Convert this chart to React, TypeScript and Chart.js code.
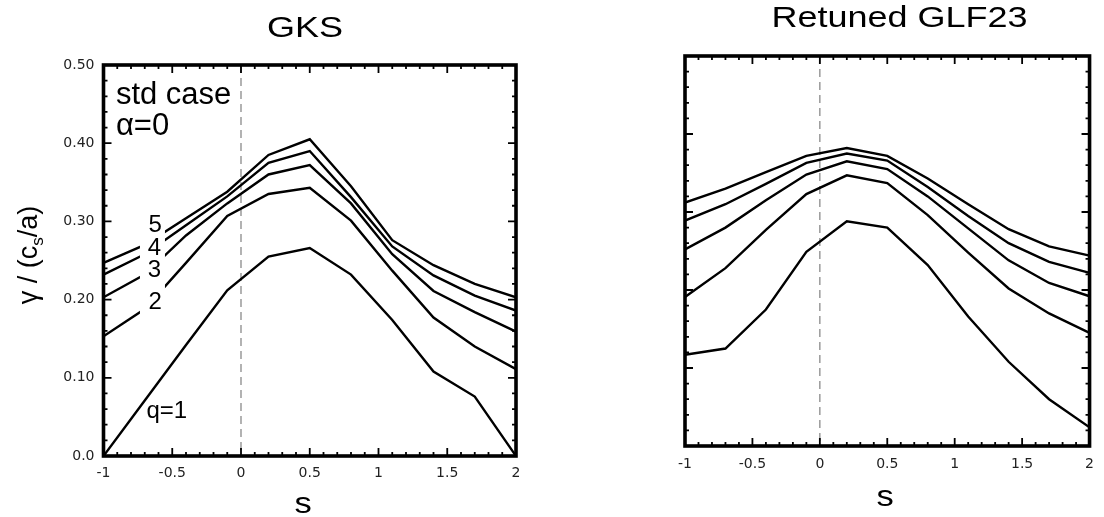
import React, { useEffect, useRef } from "react";
import { Chart, registerables } from "chart.js";

Chart.register(...registerables);

// ---------------- data ----------------
const sValues = [-1, -0.7, -0.4, -0.1, 0.2, 0.5, 0.8, 1.1, 1.4, 1.7, 2];

// GKS (left panel), q = 1..5
const gksQ1 = [0.0, 0.071, 0.142, 0.212, 0.255, 0.266, 0.232, 0.174, 0.108, 0.076, 0.0];
const gksQ2 = [0.153, 0.188, 0.247, 0.307, 0.335, 0.343, 0.301, 0.237, 0.177, 0.140, 0.111];
const gksQ3 = [0.203, 0.232, 0.282, 0.323, 0.360, 0.372, 0.323, 0.258, 0.211, 0.184, 0.159];
const gksQ4 = [0.232, 0.258, 0.295, 0.332, 0.375, 0.390, 0.331, 0.268, 0.231, 0.205, 0.186];
const gksQ5 = [0.247, 0.270, 0.304, 0.338, 0.385, 0.405, 0.345, 0.276, 0.244, 0.220, 0.203];

// Retuned GLF23 (right panel), q = 1..5
const glfQ1 = [0.117, 0.125, 0.175, 0.249, 0.288, 0.280, 0.232, 0.166, 0.108, 0.060, 0.024];
const glfQ2 = [0.191, 0.228, 0.277, 0.323, 0.347, 0.337, 0.296, 0.248, 0.202, 0.170, 0.145];
const glfQ3 = [0.252, 0.280, 0.315, 0.348, 0.365, 0.355, 0.320, 0.279, 0.238, 0.209, 0.192];
const glfQ4 = [0.289, 0.310, 0.336, 0.363, 0.375, 0.366, 0.332, 0.295, 0.260, 0.236, 0.222];
const glfQ5 = [0.312, 0.330, 0.351, 0.372, 0.382, 0.372, 0.343, 0.310, 0.278, 0.256, 0.244];

const qNames = ["q=1", "q=2", "q=3", "q=4", "q=5"];

const xTickValues = [-1, -0.5, 0, 0.5, 1, 1.5, 2];
const xTickLabels = ["-1", "-0.5", "0", "0.5", "1", "1.5", "2"];
const yTickValues = [0, 0.1, 0.2, 0.3, 0.4, 0.5];
const yTickLabels = ["0.0", "0.10", "0.20", "0.30", "0.40", "0.50"];

// in-plot annotations of the GKS panel: [text, s, gamma]
const curveLabelText = ["5", "4", "3", "2"];
const curveLabelS = [-0.625, -0.63, -0.63, -0.625];
const curveLabelY = [0.287, 0.257, 0.229, 0.188];
const q1LabelText = "q=1";
const q1LabelPos = [-0.54, 0.049];
const caseText = ["std case", "\u03b1=0"];
const caseTextS = -0.91;
const caseTextY = [0.45, 0.41];

const FONT = '"Liberation Sans", Arial, Helvetica, sans-serif';
const TICK_FONT = '"DejaVu Sans", "Liberation Sans", sans-serif';

function drawText(
  ctx: CanvasRenderingContext2D,
  text: string,
  x: number,
  y: number,
  size: number,
  align: CanvasTextAlign,
  sx = 1
) {
  ctx.save();
  ctx.font = `${size}px ${FONT}`;
  ctx.fillStyle = "#000";
  ctx.textAlign = align;
  ctx.textBaseline = "alphabetic";
  ctx.translate(x, y);
  ctx.scale(sx, 1);
  ctx.fillText(text, 0, 0);
  ctx.restore();
}

type PanelProps = {
  left: number;
  width: number;
  series: number[][];
  title: string;
  titleX: number;
  titleY: number;
  sTitleX: number;
  sTitleY: number;
  padTop: number;
  padRight: number;
  yAxisWidth: number;
  xAxisHeight: number;
  xTickPad: number;
  showYLabels: boolean;
  annotate: boolean;
};

function Panel(p: PanelProps) {
  const ref = useRef<HTMLCanvasElement>(null);

  useEffect(() => {
    const canvas = ref.current;
    if (!canvas) return;

    const decor = {
      id: "decor",
      beforeDatasetsDraw(chart: any) {
        const { ctx, chartArea: a, scales } = chart;
        const x0 = scales.x.getPixelForValue(0);
        ctx.save();
        ctx.strokeStyle = "#8a8a8a";
        ctx.lineWidth = 1.3;
        ctx.setLineDash([8, 5]);
        ctx.beginPath();
        ctx.moveTo(x0, a.top);
        ctx.lineTo(x0, a.bottom);
        ctx.stroke();
        ctx.restore();
      },
      afterDatasetsDraw(chart: any) {
        const { ctx, chartArea: a, scales } = chart;
        const xs = scales.x;
        const ys = scales.y;

        // in-plot annotations (GKS panel)
        if (p.annotate) {
          ctx.save();
          ctx.fillStyle = "#fff";
          const gx1 = xs.getPixelForValue(-0.735);
          const gx2 = xs.getPixelForValue(-0.553);
          const gy1 = ys.getPixelForValue(0.315);
          const gy2 = ys.getPixelForValue(0.18);
          ctx.fillRect(gx1, gy1, gx2 - gx1, gy2 - gy1);
          ctx.restore();
          for (let i = 0; i < curveLabelText.length; i++) {
            drawText(
              ctx,
              curveLabelText[i],
              xs.getPixelForValue(curveLabelS[i]),
              ys.getPixelForValue(curveLabelY[i]),
              24,
              "center"
            );
          }
          drawText(
            ctx,
            q1LabelText,
            xs.getPixelForValue(q1LabelPos[0]),
            ys.getPixelForValue(q1LabelPos[1]),
            24,
            "center"
          );
          for (let i = 0; i < caseText.length; i++) {
            drawText(
              ctx,
              caseText[i],
              xs.getPixelForValue(caseTextS),
              ys.getPixelForValue(caseTextY[i]),
              31,
              "left"
            );
          }
        }

        // inward ticks on all four sides
        ctx.save();
        ctx.strokeStyle = "#000";
        ctx.lineWidth = 1.8;
        ctx.beginPath();
        for (let i = 1; i < 30; i++) {
          const v = -1 + i * 0.1;
          const px = xs.getPixelForValue(v);
          const len = i % 5 === 0 ? 8 : 4;
          ctx.moveTo(px, a.bottom);
          ctx.lineTo(px, a.bottom - len);
          ctx.moveTo(px, a.top);
          ctx.lineTo(px, a.top + len);
        }
        for (let i = 1; i < 25; i++) {
          const v = i * 0.02;
          const py = ys.getPixelForValue(v);
          const len = i % 5 === 0 ? 8 : 4;
          ctx.moveTo(a.left, py);
          ctx.lineTo(a.left + len, py);
          ctx.moveTo(a.right, py);
          ctx.lineTo(a.right - len, py);
        }
        ctx.stroke();
        // frame
        ctx.lineWidth = 3.6;
        ctx.strokeRect(a.left, a.top, a.right - a.left, a.bottom - a.top);
        ctx.restore();

        // titles
        drawText(ctx, p.title, p.titleX, p.titleY, 30, "center", 1.2);
        drawText(ctx, "s", p.sTitleX, p.sTitleY, 30, "center", 1.15);

        // y axis title  γ / (c_s/a)
        if (p.showYLabels) {
          ctx.save();
          ctx.translate(37, 255);
          ctx.rotate(-Math.PI / 2);
          ctx.fillStyle = "#000";
          ctx.textBaseline = "alphabetic";
          ctx.textAlign = "left";
          const big = `27px ${FONT}`;
          const small = `17px ${FONT}`;
          const part1 = "\u03b3 / (c";
          const part2 = "s";
          const part3 = "/a)";
          ctx.font = big;
          const w1 = ctx.measureText(part1).width;
          const w3 = ctx.measureText(part3).width;
          ctx.font = small;
          const w2 = ctx.measureText(part2).width;
          const total = w1 + w2 + w3;
          let cx = -total / 2;
          ctx.font = big;
          ctx.fillText(part1, cx, 0);
          cx += w1;
          ctx.font = small;
          ctx.fillText(part2, cx, 6);
          cx += w2;
          ctx.font = big;
          ctx.fillText(part3, cx, 0);
          ctx.restore();
        }
      },
    };

    const chart = new Chart(canvas, {
      type: "line",
      data: {
        datasets: p.series.map((vals, i) => ({
          label: qNames[i],
          data: sValues.map((s, j) => ({ x: s, y: vals[j] })),
          borderColor: "#000",
          backgroundColor: "#000",
          borderWidth: 2.4,
          pointRadius: 0,
          tension: 0,
          fill: false,
        })),
      },
      options: {
        responsive: true,
        maintainAspectRatio: false,
        animation: false,
        events: [],
        layout: { padding: { top: p.padTop, right: p.padRight, left: 0, bottom: 0 } },
        plugins: {
          legend: { display: false },
          tooltip: { enabled: false },
          title: { display: false },
        },
        scales: {
          x: {
            type: "linear",
            min: -1,
            max: 2,
            grid: { display: false, drawTicks: false },
            border: { display: false },
            afterBuildTicks: (sc: any) => {
              sc.ticks = xTickValues.map((v) => ({ value: v }));
            },
            afterFit: (sc: any) => {
              sc.height = p.xAxisHeight;
            },
            ticks: {
              autoSkip: false,
              maxRotation: 0,
              padding: p.xTickPad,
              color: "#222",
              font: { family: TICK_FONT, size: 14 },
              callback: (_v: any, i: number) => xTickLabels[i],
            },
          },
          y: {
            type: "linear",
            min: 0,
            max: 0.5,
            grid: { display: false, drawTicks: false },
            border: { display: false },
            afterBuildTicks: (sc: any) => {
              sc.ticks = yTickValues.map((v) => ({ value: v }));
            },
            afterFit: (sc: any) => {
              sc.width = p.yAxisWidth;
            },
            ticks: {
              display: p.showYLabels,
              padding: 9,
              color: "#222",
              font: { family: TICK_FONT, size: 14 },
              callback: (_v: any, i: number) => yTickLabels[i],
            },
          },
        },
      },
      plugins: [decor],
    } as any);

    return () => chart.destroy();
  }, []);

  return (
    <div style={{ position: "absolute", left: p.left, top: 0, width: p.width, height: 517 }}>
      <canvas ref={ref} />
    </div>
  );
}

export default function App() {
  return (
    <div style={{ position: "absolute", left: 0, top: 0, width: 1104, height: 517, background: "#fff" }}>
      <Panel
        left={0}
        width={580}
        series={[gksQ1, gksQ2, gksQ3, gksQ4, gksQ5]}
        title="GKS"
        titleX={305}
        titleY={37}
        sTitleX={303}
        sTitleY={513}
        padTop={65}
        padRight={64}
        yAxisWidth={103.5}
        xAxisHeight={61}
        xTickPad={9}
        showYLabels={true}
        annotate={true}
      />
      <Panel
        left={580}
        width={524}
        series={[glfQ1, glfQ2, glfQ3, glfQ4, glfQ5]}
        title="Retuned GLF23"
        titleX={319.5}
        titleY={27}
        sTitleX={305}
        sTitleY={506}
        padTop={56}
        padRight={8}
        yAxisWidth={105}
        xAxisHeight={71}
        xTickPad={10}
        showYLabels={false}
        annotate={false}
      />
    </div>
  );
}
